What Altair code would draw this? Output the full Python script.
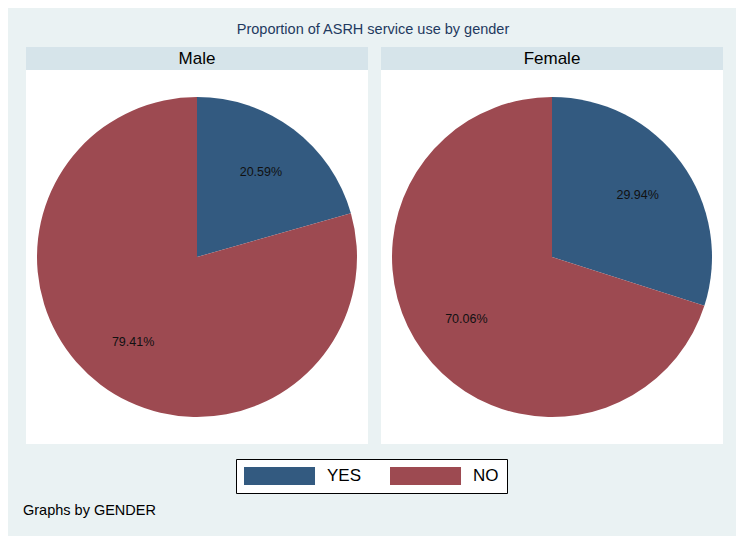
import altair as alt
import pandas as pd

genders = ["Male", "Male", "Female", "Female"]
answers = ["YES", "NO", "YES", "NO"]
values = [20.59, 79.41, 29.94, 70.06]
orders = [0, 1, 0, 1]
labels = ["20.59%", "79.41%", "29.94%", "70.06%"]

df = pd.DataFrame({"gender": genders, "answer": answers, "value": values,
                   "ord": orders, "label": labels})

W, H = 342, 374
FONT = "Liberation Sans"
BLUE, RED = "#335A80", "#9D4A51"

color = alt.Color("answer:N", sort=["YES", "NO"],
                  scale=alt.Scale(domain=["YES", "NO"], range=[BLUE, RED]),
                  legend=alt.Legend(
                      title=None, orient="none", legendX=210, legendY=389,
                      direction="horizontal", columns=2, columnPadding=28,
                      symbolType="M-1,-1H6.89V1H-1Z", symbolSize=324,
                      symbolStrokeWidth=0, symbolOpacity=1, labelOffset=65,
                      labelFontSize=17, labelFont=FONT, labelColor="#000000",
                      strokeColor="#000000", fillColor="#FFFFFF", padding=8,
                      cornerRadius=0))

base = alt.Chart().encode(
    theta=alt.Theta("value:Q", stack=True),
    color=color,
    order=alt.Order("ord:Q"),
)
bg = alt.Chart().mark_rect(color="#FFFFFF").encode(
    x=alt.value(0), x2=alt.value(W), y=alt.value(0), y2=alt.value(H)
).transform_filter(alt.datum.answer == "YES")
arc = base.mark_arc(outerRadius=160, stroke=None)
pct = base.mark_text(radius=106, fontSize=12.5, font=FONT).encode(
    text="label:N", color=alt.value("#111111"))

head_rect = alt.Chart().mark_rect(color="#D6E4EA").encode(
    x=alt.value(0), x2=alt.value(W), y=alt.value(-23), y2=alt.value(0)
).transform_filter(alt.datum.answer == "YES")
head_text = alt.Chart().mark_text(fontSize=17, font=FONT, color="#000000",
                                  baseline="middle").encode(
    x=alt.value(W / 2), y=alt.value(-11.5), text="gender:N"
).transform_filter(alt.datum.answer == "YES")
footer = alt.Chart().mark_text(fontSize=14.5, font=FONT, color="#000000",
                               align="left", baseline="middle").encode(
    x=alt.value(-3), y=alt.value(441), text=alt.value("Graphs by GENDER")
).transform_filter((alt.datum.answer == "YES") & (alt.datum.gender == "Male"))

chart = alt.layer(bg, head_rect, head_text, arc, pct, footer, data=df).properties(
    width=W, height=H
).facet(
    column=alt.Column("gender:N", sort=["Male", "Female"],
                      header=alt.Header(labels=False, title=None)),
    spacing=13,
).properties(
    title=alt.TitleParams("Proportion of ASRH service use by gender",
                          fontSize=14.5, font=FONT, fontWeight="normal",
                          color="#1F3A5F", anchor="middle", offset=10),
    padding={"left": 15, "top": 13, "right": 13, "bottom": 18},
).configure(background="#EAF2F3").configure_view(stroke=None)

chart.save("out.html", embed_options={"renderer": "svg", "actions": False})
